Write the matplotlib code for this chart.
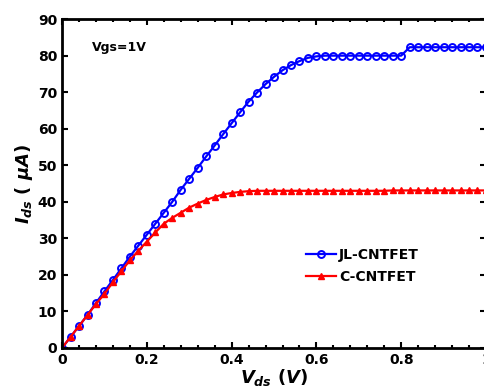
import numpy as np
import matplotlib.pyplot as plt
from matplotlib.ticker import MultipleLocator

plt.rcParams['mathtext.fontset'] = 'custom'
plt.rcParams['mathtext.it'] = 'DejaVu Sans:italic:bold'
plt.rcParams['mathtext.rm'] = 'DejaVu Sans:bold'

# Drain voltage sweep (V), one point every 0.02 V
vds = np.round(np.arange(0, 1.0001, 0.02), 2)

# JL-CNTFET drain current (uA)
jl_ids = [0, 3, 6, 9, 12.3, 15.5, 18.6, 21.8, 25, 28, 31, 34, 37, 40, 43.3,
          46.3, 49.3, 52.4, 55.4, 58.5, 61.5, 64.5, 67.4, 69.9, 72.2, 74.2,
          76, 77.4, 78.5, 79.4, 79.8, 80, 80, 80, 80, 80, 80, 80, 80, 80,
          80, 82.3, 82.3, 82.3, 82.3, 82.3, 82.3, 82.3, 82.3, 82.3, 82.3]

# C-CNTFET drain current (uA)
c_ids = [0, 3, 6, 9, 12, 14.8, 18, 21, 24, 26.6, 29.1, 31.6, 34, 35.6, 37,
         38.4, 39.5, 40.5, 41.3, 42, 42.4, 42.7, 42.9, 43, 43, 43, 43, 43,
         43, 43, 43, 43, 43, 43, 43, 43, 43, 43, 43, 43.1, 43.1, 43.1, 43.1,
         43.1, 43.1, 43.1, 43.1, 43.1, 43.1, 43.1, 43.1]

fig = plt.figure(figsize=(4.85, 3.9), dpi=100)
ax = fig.add_axes([0.128, 0.108, 0.874, 0.843])

ax.plot(vds, jl_ids, color='#0000ff', marker='o', markersize=5, mfc='none',
        mew=1.4, lw=1.6, label='JL-CNTFET')
ax.plot(vds, c_ids, color='#ff0000', marker='^', markersize=5, mfc='#ff0000',
        lw=1.6, label='C-CNTFET')

ax.set_xlim(0, 1)
ax.set_ylim(0, 90)
ax.xaxis.set_major_locator(MultipleLocator(0.2))
ax.xaxis.set_minor_locator(MultipleLocator(0.04))
ax.yaxis.set_major_locator(MultipleLocator(10))
ax.tick_params(which='both', direction='in', top=True, right=True, width=1.5)
ax.tick_params(which='major', length=4)
ax.tick_params(which='minor', length=2.5)
ax.tick_params(axis='y', which='minor', left=False, right=False)
ax.set_xticks([0, 0.2, 0.4, 0.6, 0.8, 1.0])
ax.set_xticklabels(['0', '0.2', '0.4', '0.6', '0.8', '1'])
for lab in ax.get_xticklabels() + ax.get_yticklabels():
    lab.set_fontweight('bold')
    lab.set_fontsize(10)
for sp in ax.spines.values():
    sp.set_linewidth(2)

ax.text(0.07, 82.3, 'Vgs=1V', fontsize=9, fontweight='bold', va='center')

ax.set_xlabel(r'$V_{ds}\ (V)$', fontsize=13, labelpad=0)
ax.set_ylabel(r'$I_{ds}\ (\ \mu A)$', fontsize=13, labelpad=2)

leg = ax.legend(loc='center left', bbox_to_anchor=(0.545, 0.25), frameon=False,
                handlelength=2.2, handletextpad=0.2, labelspacing=0.55,
                prop={'weight': 'bold', 'size': 10})

fig.savefig('out.png', dpi=100)
